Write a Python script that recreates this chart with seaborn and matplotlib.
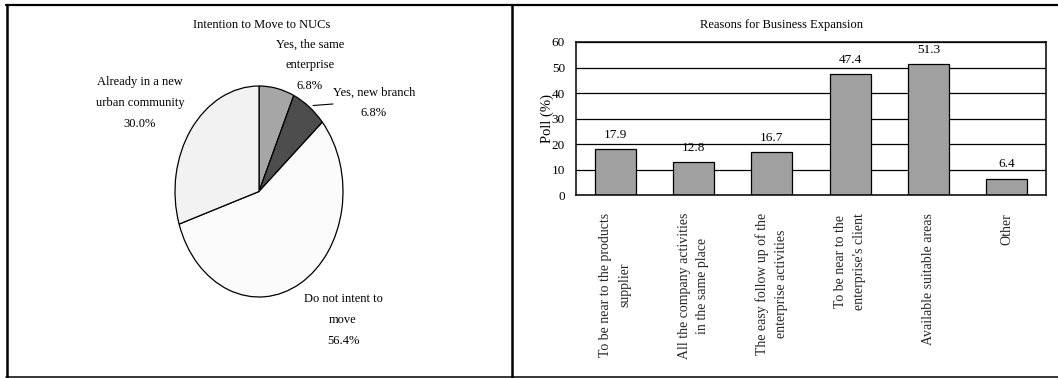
import matplotlib
matplotlib.use("Agg")
import matplotlib.pyplot as plt
from matplotlib.lines import Line2D
import seaborn as sns

# Intention to move to the new urban communities (pie)
intent_labels = ["Yes, the same\nenterprise", "Yes, new branch",
                 "Do not intent to\nmove", "Already in a new\nurban community"]
intent_share = [6.8, 6.8, 56.4, 30.0]
intent_colors = ["#a6a6a6", "#4d4d4d", "#fbfbfb", "#f2f2f2"]

# Reasons for business expansion (bars)
reasons = ["To be near to the products\nsupplier",
           "All the company activities\nin the same place",
           "The easy follow up of the\nenterprise activities",
           "To be near to the\nenterprise's client",
           "Available suitable areas",
           "Other"]
poll = [17.9, 12.8, 16.7, 47.4, 51.3, 6.4]
poll_ticks = [0, 10, 20, 30, 40, 50, 60]

sns.set_style("white")
plt.rcParams["font.family"] = ["Liberation Serif", "DejaVu Serif"]
plt.rcParams["font.size"] = 9
plt.rcParams["text.color"] = "black"

W, H = 1058, 378
fig = plt.figure(figsize=(W / 100, H / 100), dpi=100)


def fx(px):
    return px / W


def fy(py):
    return 1 - py / H


# outer frame of the two-cell table
fig.add_artist(Line2D([fx(6), 1], [fy(5), fy(5)], color="black", lw=1.6))
fig.add_artist(Line2D([fx(6), 1], [fy(376.5), fy(376.5)], color="black", lw=1.1))
fig.add_artist(Line2D([fx(7), fx(7)], [fy(5), fy(376.5)], color="black", lw=1.8))
fig.add_artist(Line2D([fx(512), fx(512)], [fy(5), fy(376.5)], color="black", lw=1.8))

# ---------------- pie ----------------
pl, pr, pt, pb = 175, 343, 86, 297
axp = fig.add_axes([fx(pl), fy(pb), fx(pr - pl), (pb - pt) / H])
axp.pie(intent_share, colors=intent_colors, startangle=90, counterclock=False,
        wedgeprops=dict(edgecolor="black", linewidth=0.9))
axp.set_aspect("auto")
axp.set_xlim(-1, 1)
axp.set_ylim(-1, 1)
axp.axis("off")

cx, cy = (pl + pr) / 2, (pt + pb) / 2
rx, ry = (pr - pl) / 2, (pb - pt) / 2


def pdata(px, py):
    return (px - cx) / rx, (cy - py) / ry


label_pos = [(310, 65), (374, 103), (343, 320), (140, 103)]
for name, share, (px, py) in zip(intent_labels, intent_share, label_pos):
    x, y = pdata(px, py)
    axp.text(x, y, f"{name}\n{share:.1f}%", ha="center", va="center",
             linespacing=1.95, fontsize=9, clip_on=False)

x0, y0 = pdata(313, 105.5)
x1, y1 = pdata(333, 104)
axp.plot([x0, x1], [y0, y1], color="black", lw=0.8, clip_on=False)

fig.text(fx(262), fy(25), "Intention to Move to NUCs", ha="center", va="center",
         fontsize=9)

# ---------------- bars ----------------
bl, br, bt, bb = 576, 1046, 42, 195
axb = fig.add_axes([fx(bl), fy(bb), fx(br - bl), (bb - bt) / H])
sns.barplot(x=reasons, y=poll, color="#a0a0a0", saturation=1, width=0.52,
            edgecolor="black", linewidth=0.9, ax=axb)
axb.set_ylim(0, 60)
axb.set_xlim(-0.5, len(reasons) - 0.5)
axb.set_yticks(poll_ticks)
axb.yaxis.grid(True, color="black", lw=0.9)
axb.set_axisbelow(True)
for s in axb.spines.values():
    s.set_visible(True)
    s.set_color("black")
    s.set_linewidth(1.1)

axb.tick_params(axis="y", length=0, pad=8, labelsize=9.5, colors="black")
axb.tick_params(axis="x", which="major", length=0, pad=13, labelsize=10)
axb.set_xticks([i + 0.5 for i in range(len(reasons) - 1)], minor=True)
axb.tick_params(axis="x", which="minor", direction="in", length=5,
                width=0.9, color="black")
for lab in axb.get_xticklabels():
    lab.set_rotation(90)
    lab.set_linespacing(1.55)
    lab.set_ha("center")

axb.bar_label(axb.containers[0], labels=[f"{v:.1f}" for v in poll],
              padding=6, fontsize=9.5)
axb.set_xlabel("")
axb.set_ylabel("")
axb.text((547 - bl) / (br - bl), 0.5, "Poll (%)", transform=axb.transAxes,
         rotation=90, ha="center", va="center", fontsize=10.5)

fig.text(fx(782), fy(25), "Reasons for Business Expansion", ha="center",
         va="center", fontsize=9)

fig.savefig("out.png", dpi=100)
